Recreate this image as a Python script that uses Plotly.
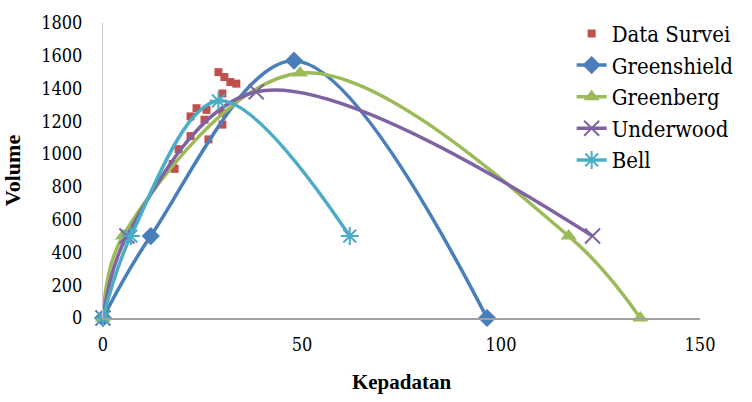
import plotly.graph_objects as go

# Data Survei (scatter)
survei_k = [29, 30.5, 32, 33.5, 30, 23.5, 22, 26, 25.5, 30, 30, 22, 26.5, 19, 17.5, 18]
survei_q = [1500, 1470, 1440, 1430, 1370, 1280, 1230, 1270, 1210, 1250, 1180, 1110, 1090, 1030, 940, 910]

# Model curves
greenshield_k = [0, 12, 48, 96.5]
greenshield_q = [0, 500, 1570, 0]
greenberg_k = [0, 5, 49.5, 117, 135]
greenberg_q = [0, 500, 1495, 500, 0]
underwood_k = [0, 6, 38.5, 123]
underwood_q = [0, 500, 1380, 500]
bell_k = [0, 7, 29, 62]
bell_q = [0, 500, 1325, 500]

x_ticks = [0, 50, 100, 150]
y_ticks = [0, 200, 400, 600, 800, 1000, 1200, 1400, 1600, 1800]

FONT = "DejaVu Serif Condensed, DejaVu Serif, serif"
TITLE_FONT = "Times New Roman, Liberation Serif, serif"

fig = go.Figure()
fig.add_trace(go.Scatter(x=survei_k, y=survei_q, mode="markers", name="Data Survei",
                         marker=dict(symbol="square", size=8, color="#C0504D"), cliponaxis=False))
fig.add_trace(go.Scatter(x=greenshield_k, y=greenshield_q, mode="lines+markers", name="Greenshield",
                         line=dict(color="#4A7EBB", width=3.5, shape="spline", smoothing=1),
                         marker=dict(symbol="diamond", size=14, color="#4A7EBB"), cliponaxis=False))
fig.add_trace(go.Scatter(x=greenberg_k, y=greenberg_q, mode="lines+markers", name="Greenberg",
                         line=dict(color="#9BBB59", width=3.5, shape="spline", smoothing=1),
                         marker=dict(symbol="triangle-up", size=14, color="#9BBB59"), cliponaxis=False))
fig.add_trace(go.Scatter(x=underwood_k, y=underwood_q, mode="lines+markers", name="Underwood",
                         line=dict(color="#7E62A1", width=3.5, shape="spline", smoothing=1),
                         marker=dict(symbol="x-thin-open", size=15, color="#7E62A1",
                                     line=dict(color="#7E62A1", width=2)), cliponaxis=False))
fig.add_trace(go.Scatter(x=bell_k, y=bell_q, mode="lines+markers", name="Bell",
                         line=dict(color="#4BACC6", width=3.5, shape="spline", smoothing=1),
                         marker=dict(symbol="asterisk-open", size=15, color="#4BACC6",
                                     line=dict(color="#4BACC6", width=2)), cliponaxis=False))

fig.update_layout(
    width=752, height=402,
    margin=dict(l=103, r=52, t=13, b=80),
    paper_bgcolor="white", plot_bgcolor="white",
    font=dict(family=FONT, size=18, color="black"),
    legend=dict(x=0.785, y=1.035, xanchor="left", yanchor="top",
                font=dict(family=FONT, size=22, color="black"), bgcolor="rgba(0,0,0,0)",
                tracegroupgap=0),
    xaxis=dict(range=[0, 150], tickvals=x_ticks, ticktext=[str(v) for v in x_ticks],
               tickfont=dict(family=FONT, size=18, color="black"),
               showgrid=False, zeroline=False, showline=True, linecolor="#A0A0A0", linewidth=1.5,
               ticks="", ticklabelstandoff=10,
               title=dict(text="<b>Kepadatan</b>", font=dict(family=TITLE_FONT, size=21), standoff=20)),
    yaxis=dict(range=[0, 1800], tickvals=y_ticks, ticktext=[str(v) for v in y_ticks],
               tickfont=dict(family=FONT, size=18, color="black"),
               showgrid=False, zeroline=False, showline=True, linecolor="#C8C8C8", linewidth=1,
               ticks="", ticklabelstandoff=16,
               title=dict(text="<b>Volume</b>", font=dict(family=TITLE_FONT, size=22), standoff=14)),
)

fig.write_html("out.html")
